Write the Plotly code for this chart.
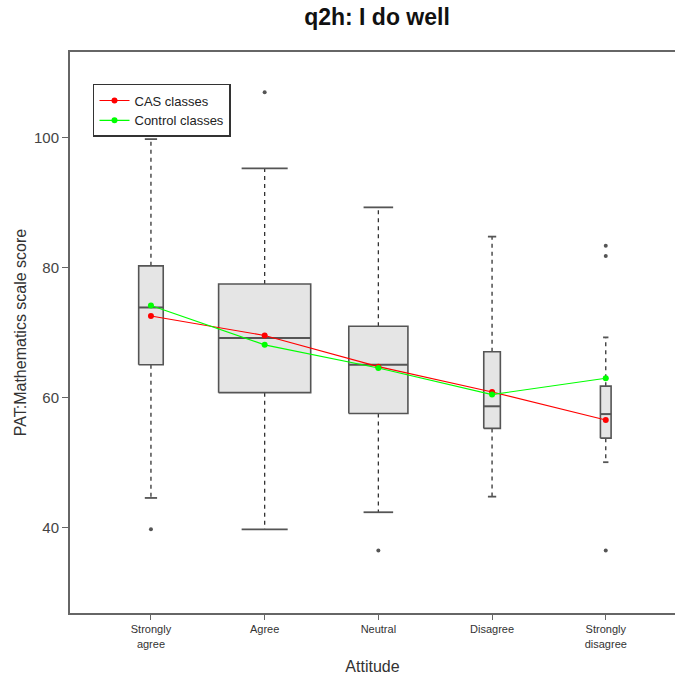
import plotly.graph_objects as go

# ---- data ----
categories = ["Strongly<br>agree", "Agree", "Neutral", "Disagree", "Strongly<br>disagree"]
lower_whisker = [44.6, 39.75, 42.4, 44.8, 50.1]
q1 = [65.1, 60.8, 57.6, 55.3, 53.8]
median = [73.9, 69.2, 65.1, 58.7, 57.5]
q3 = [80.3, 77.5, 71.0, 67.1, 61.8]
upper_whisker = [99.8, 95.3, 89.3, 84.8, 69.3]
outliers = [[39.8], [107.0], [36.5], [], [83.4, 81.8, 36.5]]
cas_means = [72.6, 69.6, 64.8, 60.9, 56.6]
control_means = [74.2, 68.15, 64.6, 60.5, 63.0]

# ---- style ----
box_widths = [0.216, 0.81, 0.52, 0.146, 0.094]   # varwidth-style box widths
FONT = "Liberation Sans, Arial, sans-serif"
EDGE = "#555555"
WHISK = "#333333"

fig = go.Figure()
xs = list(range(len(categories)))

for i, x in enumerate(xs):
    hw = box_widths[i] / 2
    # whiskers (dashed)
    fig.add_trace(go.Scatter(x=[x, x, None, x, x],
                             y=[q3[i], upper_whisker[i], None, q1[i], lower_whisker[i]],
                             mode="lines", line=dict(color=WHISK, width=1.3, dash="4px,4px"),
                             showlegend=False, hoverinfo="skip"))
    # staples
    sw = hw / 2
    fig.add_trace(go.Scatter(x=[x - sw, x + sw, None, x - sw, x + sw],
                             y=[upper_whisker[i], upper_whisker[i], None, lower_whisker[i], lower_whisker[i]],
                             mode="lines", line=dict(color=EDGE, width=1.8),
                             showlegend=False, hoverinfo="skip"))
    # box
    fig.add_trace(go.Scatter(x=[x - hw, x + hw, x + hw, x - hw, x - hw],
                             y=[q1[i], q1[i], q3[i], q3[i], q1[i]],
                             mode="lines", fill="toself", fillcolor="#E5E5E5",
                             line=dict(color=EDGE, width=1.6),
                             showlegend=False, hoverinfo="skip"))
    # median
    fig.add_trace(go.Scatter(x=[x - hw, x + hw], y=[median[i], median[i]],
                             mode="lines", line=dict(color=EDGE, width=2),
                             showlegend=False, hoverinfo="skip"))
    # outliers
    if outliers[i]:
        fig.add_trace(go.Scatter(x=[x] * len(outliers[i]), y=outliers[i], mode="markers",
                                 marker=dict(color="#555555", size=4),
                                 showlegend=False, hoverinfo="skip"))

fig.add_trace(go.Scatter(x=xs, y=cas_means, mode="lines+markers", name="CAS classes",
                         line=dict(color="#FF0000", width=1.1),
                         marker=dict(color="#FF0000", size=6)))
fig.add_trace(go.Scatter(x=xs, y=control_means, mode="lines+markers", name="Control classes",
                         line=dict(color="#00FF00", width=1.1),
                         marker=dict(color="#00FF00", size=6)))

fig.update_layout(
    width=675, height=677,
    margin=dict(l=70, r=0, t=52, b=64),
    paper_bgcolor="white", plot_bgcolor="white",
    font=dict(family=FONT, color="#333333"),
    title=dict(text="<b>q2h: I do well</b>", x=0.5585, xanchor="center", y=0.975, yanchor="middle",
               font=dict(size=23, color="#111111", family=FONT)),
    showlegend=True,
    legend=dict(x=0.038, y=0.943, xanchor="left", yanchor="top",
                bgcolor="white", bordercolor="#333333", borderwidth=1.5,
                font=dict(size=13, color="#222222"), itemwidth=30,
                tracegroupgap=0),
    xaxis=dict(range=[-0.712, 4.609], tickmode="array", tickvals=xs, ticktext=categories,
               showgrid=False, zeroline=False, showline=True, mirror=True,
               linecolor="#666666", linewidth=2, ticks="outside", ticklen=5,
               tickcolor="#666666", tickfont=dict(size=11, color="#333333"),
               title=dict(text="Attitude", font=dict(size=16, color="#333333"), standoff=12)),
    yaxis=dict(range=[26.9, 113.2], tickmode="array", tickvals=[40, 60, 80, 100],
               showgrid=False, zeroline=False, showline=True,
               linecolor="#666666", linewidth=2, ticks="outside", ticklen=6,
               tickcolor="#666666", tickfont=dict(size=15, color="#444444"),
               title=dict(text="PAT:Mathematics scale score", font=dict(size=16, color="#333333"), standoff=3)),
)

fig.write_html("out.html", config={"displayModeBar": False},
               post_script="document.body.style.margin='0';document.body.style.overflow='hidden';")
